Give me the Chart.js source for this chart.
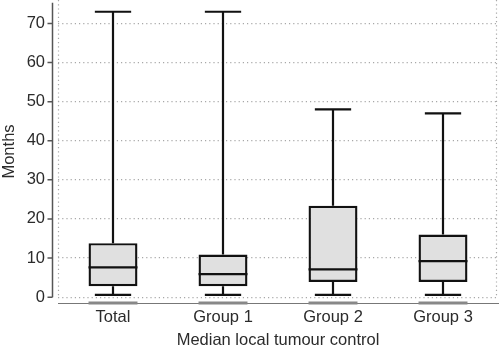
<!DOCTYPE html>
<html>
<head>
<meta charset="utf-8">
<script src="https://cdn.jsdelivr.net/npm/chart.js@4/dist/chart.umd.min.js"></script>
<style>
  html, body { margin: 0; padding: 0; background: #fff; }
  #wrap { width: 499px; height: 350px; position: relative; }
</style>
</head>
<body>
<div id="wrap"><canvas id="c"></canvas></div>
<script>
const categories = ['Total', 'Group 1', 'Group 2', 'Group 3'];
const minValues = [0.6, 0.6, 0.6, 0.6];
const q1Values = [2.8, 2.8, 3.9, 3.9];
const medianValues = [7.6, 5.9, 7.1, 9.2];
const q3Values = [13.8, 10.9, 23.4, 16.0];
const maxValues = [73, 73, 48, 47];
const yTickValues = [0, 10, 20, 30, 40, 50, 60, 70];

const FONT = 'Liberation Sans, Arial, Helvetica, sans-serif';
const TEXT = '#2b2b2b';
const FSIZE = 16.5;
const BOX_FRAC = 0.445;
const CAP_FRAC = 0.33;

const boxPlugin = {
  id: 'boxExtras',
  beforeDatasetsDraw(chart) {
    const { ctx, chartArea, scales: { x, y } } = chart;
    ctx.save();
    ctx.strokeStyle = '#a8a8a8';
    ctx.lineWidth = 1.2;
    ctx.setLineDash([1.2, 3]);
    [chartArea.left + 0.5, chartArea.right - 1.5].forEach(px => {
      ctx.beginPath();
      ctx.moveTo(px, chartArea.top);
      ctx.lineTo(px, y.getPixelForValue(0));
      ctx.stroke();
    });
    ctx.restore();
    const step = x.getPixelForValue(1) - x.getPixelForValue(0);
    ctx.save();
    ctx.strokeStyle = '#111';
    ctx.lineWidth = 2.2;
    ctx.lineCap = 'butt';
    categories.forEach((c, i) => {
      const cx = Math.round(x.getPixelForValue(i));
      const half = step * CAP_FRAC / 2;
      ctx.beginPath();
      ctx.moveTo(cx, y.getPixelForValue(q3Values[i]));
      ctx.lineTo(cx, y.getPixelForValue(maxValues[i]));
      ctx.moveTo(cx - half, y.getPixelForValue(maxValues[i]));
      ctx.lineTo(cx + half, y.getPixelForValue(maxValues[i]));
      ctx.moveTo(cx, y.getPixelForValue(q1Values[i]));
      ctx.lineTo(cx, y.getPixelForValue(minValues[i]));
      ctx.moveTo(cx - half, y.getPixelForValue(minValues[i]));
      ctx.lineTo(cx + half, y.getPixelForValue(minValues[i]));
      ctx.stroke();
    });
    ctx.restore();
  },
  afterDatasetsDraw(chart) {
    const { ctx, scales: { y } } = chart;
    const meta = chart.getDatasetMeta(0);
    ctx.save();
    ctx.strokeStyle = '#111';
    ctx.lineWidth = 2.2;
    meta.data.forEach((bar, i) => {
      const py = y.getPixelForValue(medianValues[i]);
      ctx.beginPath();
      ctx.moveTo(bar.x - bar.width / 2, py);
      ctx.lineTo(bar.x + bar.width / 2, py);
      ctx.stroke();
    });
    ctx.restore();
  },
  afterDraw(chart) {
    const { ctx, chartArea, scales: { x, y } } = chart;
    const axX = chartArea.left - 5.5;
    ctx.save();
    ctx.strokeStyle = '#555';
    ctx.lineWidth = 1.5;
    ctx.beginPath();
    ctx.moveTo(axX, y.getPixelForValue(0));
    ctx.lineTo(axX, y.getPixelForValue(75.3));
    yTickValues.forEach(v => {
      const py = y.getPixelForValue(v);
      ctx.moveTo(axX, py);
      ctx.lineTo(axX - 5, py);
    });
    ctx.stroke();
    const step = x.getPixelForValue(1) - x.getPixelForValue(0);
    ctx.strokeStyle = '#888';
    ctx.lineWidth = 3;
    categories.forEach((c, i) => {
      const cx = x.getPixelForValue(i);
      const half = step * BOX_FRAC / 2;
      ctx.beginPath();
      ctx.moveTo(cx - half, chartArea.bottom);
      ctx.lineTo(cx + half, chartArea.bottom);
      ctx.stroke();
    });
    ctx.restore();
  }
};

new Chart(document.getElementById('c'), {
  type: 'bar',
  data: {
    labels: categories,
    datasets: [
      {
        data: categories.map((c, i) => [q1Values[i], q3Values[i]]),
        backgroundColor: '#e0e0e0',
        borderColor: '#111',
        borderWidth: 2.4,
        borderSkipped: false,
        categoryPercentage: 1,
        barPercentage: BOX_FRAC
      }
    ]
  },
  options: {
    responsive: true,
    maintainAspectRatio: false,
    animation: false,
    devicePixelRatio: 1,
    layout: { padding: { top: 0, right: 1, bottom: 0, left: 0 } },
    plugins: { legend: { display: false }, tooltip: { enabled: false } },
    scales: {
      x: {
        offset: true,
        grid: { display: false, drawTicks: false },
        border: { display: true, color: '#777', width: 1 },
        ticks: { color: TEXT, font: { family: FONT, size: FSIZE }, padding: 5, maxRotation: 0 },
        title: { display: true, text: 'Median local tumour control', color: TEXT,
                 font: { family: FONT, size: FSIZE }, padding: { top: 2, bottom: 0 } },
        afterFit(s) { s.height = 47; s.paddingLeft = 0; s.paddingRight = 0; }
      },
      y: {
        min: -1.5,
        max: 76,
        grid: { color: '#a8a8a8', lineWidth: 1.2, drawTicks: false },
        border: { display: false, dash: [1.2, 3] },
        ticks: { stepSize: 10, includeBounds: false, color: TEXT,
                 font: { family: FONT, size: FSIZE }, padding: 13 },
        title: { display: true, text: 'Months', color: TEXT,
                 font: { family: FONT, size: FSIZE }, padding: { top: 0, bottom: 0 } },
        afterFit(s) { s.width = 58; s.paddingTop = 0; s.paddingBottom = 0; }
      }
    }
  },
  plugins: [boxPlugin]
});
</script>
</body>
</html>
